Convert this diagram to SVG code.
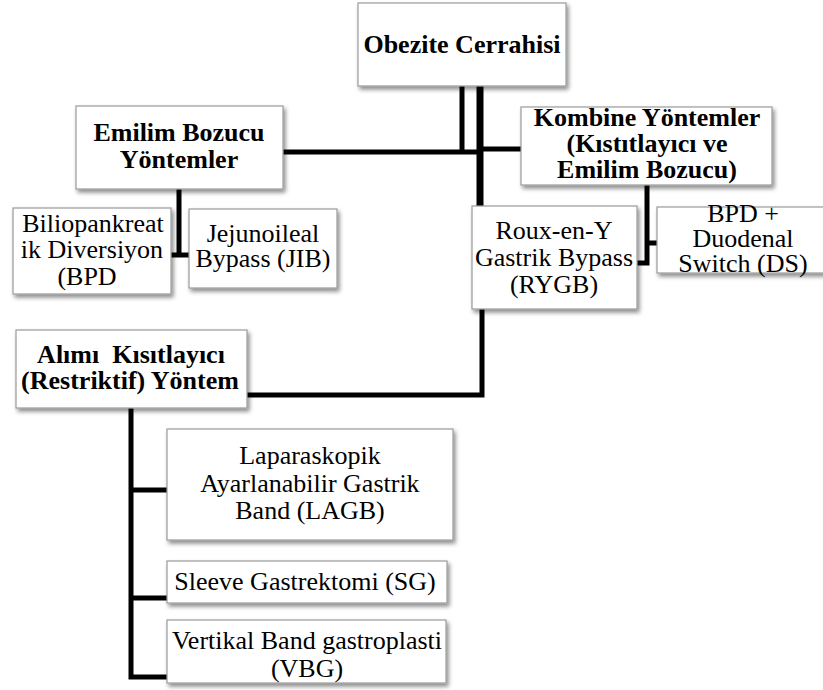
<svg xmlns="http://www.w3.org/2000/svg" width="823" height="690" viewBox="0 0 823 690">
<defs>
<filter id="sh" x="-10%" y="-10%" width="125%" height="130%">
<feDropShadow dx="2" dy="3" stdDeviation="2" flood-color="#000" flood-opacity="0.45"/>
</filter>
<style>
.box{fill:#fff;stroke:#9a9a9a;stroke-width:1.2;filter:url(#sh)}
.t{font-family:"Liberation Serif","Times New Roman",serif;font-size:26px;fill:#000;text-anchor:middle}
.b{font-weight:bold}
.c{stroke:#000;fill:none;stroke-linecap:square;stroke-linejoin:miter}
</style>
</defs>
<rect width="823" height="690" fill="#fff"/>
<g id="connectors">
<path class="c" stroke-width="5" d="M462,86 V152 M283,152 H480"/>
<path class="c" stroke-width="7" d="M480,86 V206"/>
<path class="c" stroke-width="5" d="M480,149 H521"/>
<path class="c" stroke-width="5" d="M179,189 V255 M170,255 H189"/>
<path class="c" stroke-width="5" d="M647,185 V263 H637 M647,243 H657"/>
<path class="c" stroke-width="5" d="M482,309 V395 H247"/>
<path class="c" stroke-width="5" d="M131,408 V677 H167 M131,490 H167 M131,598 H167"/>
</g>
<g id="n-obezite"><rect class="box" x="358" y="3" width="208" height="83"/><text class="t b" x="462" y="53">Obezite Cerrahisi</text></g>
<g id="n-emilim"><rect class="box" x="76" y="106" width="207" height="83"/><text class="t b" x="179" y="141">Emilim Bozucu</text><text class="t b" x="179" y="168">Yöntemler</text></g>
<g id="n-kombine"><rect class="box" x="521" y="107" width="251" height="78"/><text class="t b" x="647" y="126">Kombine Yöntemler</text><text class="t b" x="647" y="152">(Kıstıtlayıcı ve</text><text class="t b" x="647" y="178">Emilim Bozucu)</text></g>
<g id="n-bpd"><rect class="box" x="13" y="208" width="158" height="86"/><text class="t" x="93" y="232">Biliopankreat</text><text class="t" x="92" y="258">ik Diversiyon</text><text class="t" x="87" y="285">(BPD</text></g>
<g id="n-jib"><rect class="box" x="189" y="209" width="148" height="79"/><text class="t" x="263" y="242">Jejunoileal</text><text class="t" x="263" y="267">Bypass (JIB)</text></g>
<g id="n-rygb"><rect class="box" x="472" y="206" width="165" height="103"/><text class="t" x="554" y="239">Roux-en-Y</text><text class="t" x="554" y="266">Gastrik Bypass</text><text class="t" x="554" y="293">(RYGB)</text></g>
<g id="n-ds"><rect class="box" x="657" y="207" width="172" height="66"/><text class="t" x="743" y="222">BPD +</text><text class="t" x="743" y="247">Duodenal</text><text class="t" x="743" y="272">Switch (DS)</text></g>
<g id="n-alimi"><rect class="box" x="16" y="330" width="231" height="78"/><text class="t b" x="131" y="363" xml:space="preserve">Alımı  Kısıtlayıcı</text><text class="t b" x="130" y="389">(Restriktif) Yöntem</text></g>
<g id="n-lagb"><rect class="box" x="167" y="429" width="286" height="111"/><text class="t" x="310" y="464">Laparaskopik</text><text class="t" x="310" y="492">Ayarlanabilir Gastrik</text><text class="t" x="310" y="519">Band (LAGB)</text></g>
<g id="n-sg"><rect class="box" x="167" y="561" width="280" height="42"/><text class="t" x="305" y="590">Sleeve Gastrektomi (SG)</text></g>
<g id="n-vbg"><rect class="box" x="167" y="620" width="279" height="63"/><text class="t" x="307" y="649">Vertikal Band gastroplasti</text><text class="t" x="307" y="677">(VBG)</text></g>
</svg>
